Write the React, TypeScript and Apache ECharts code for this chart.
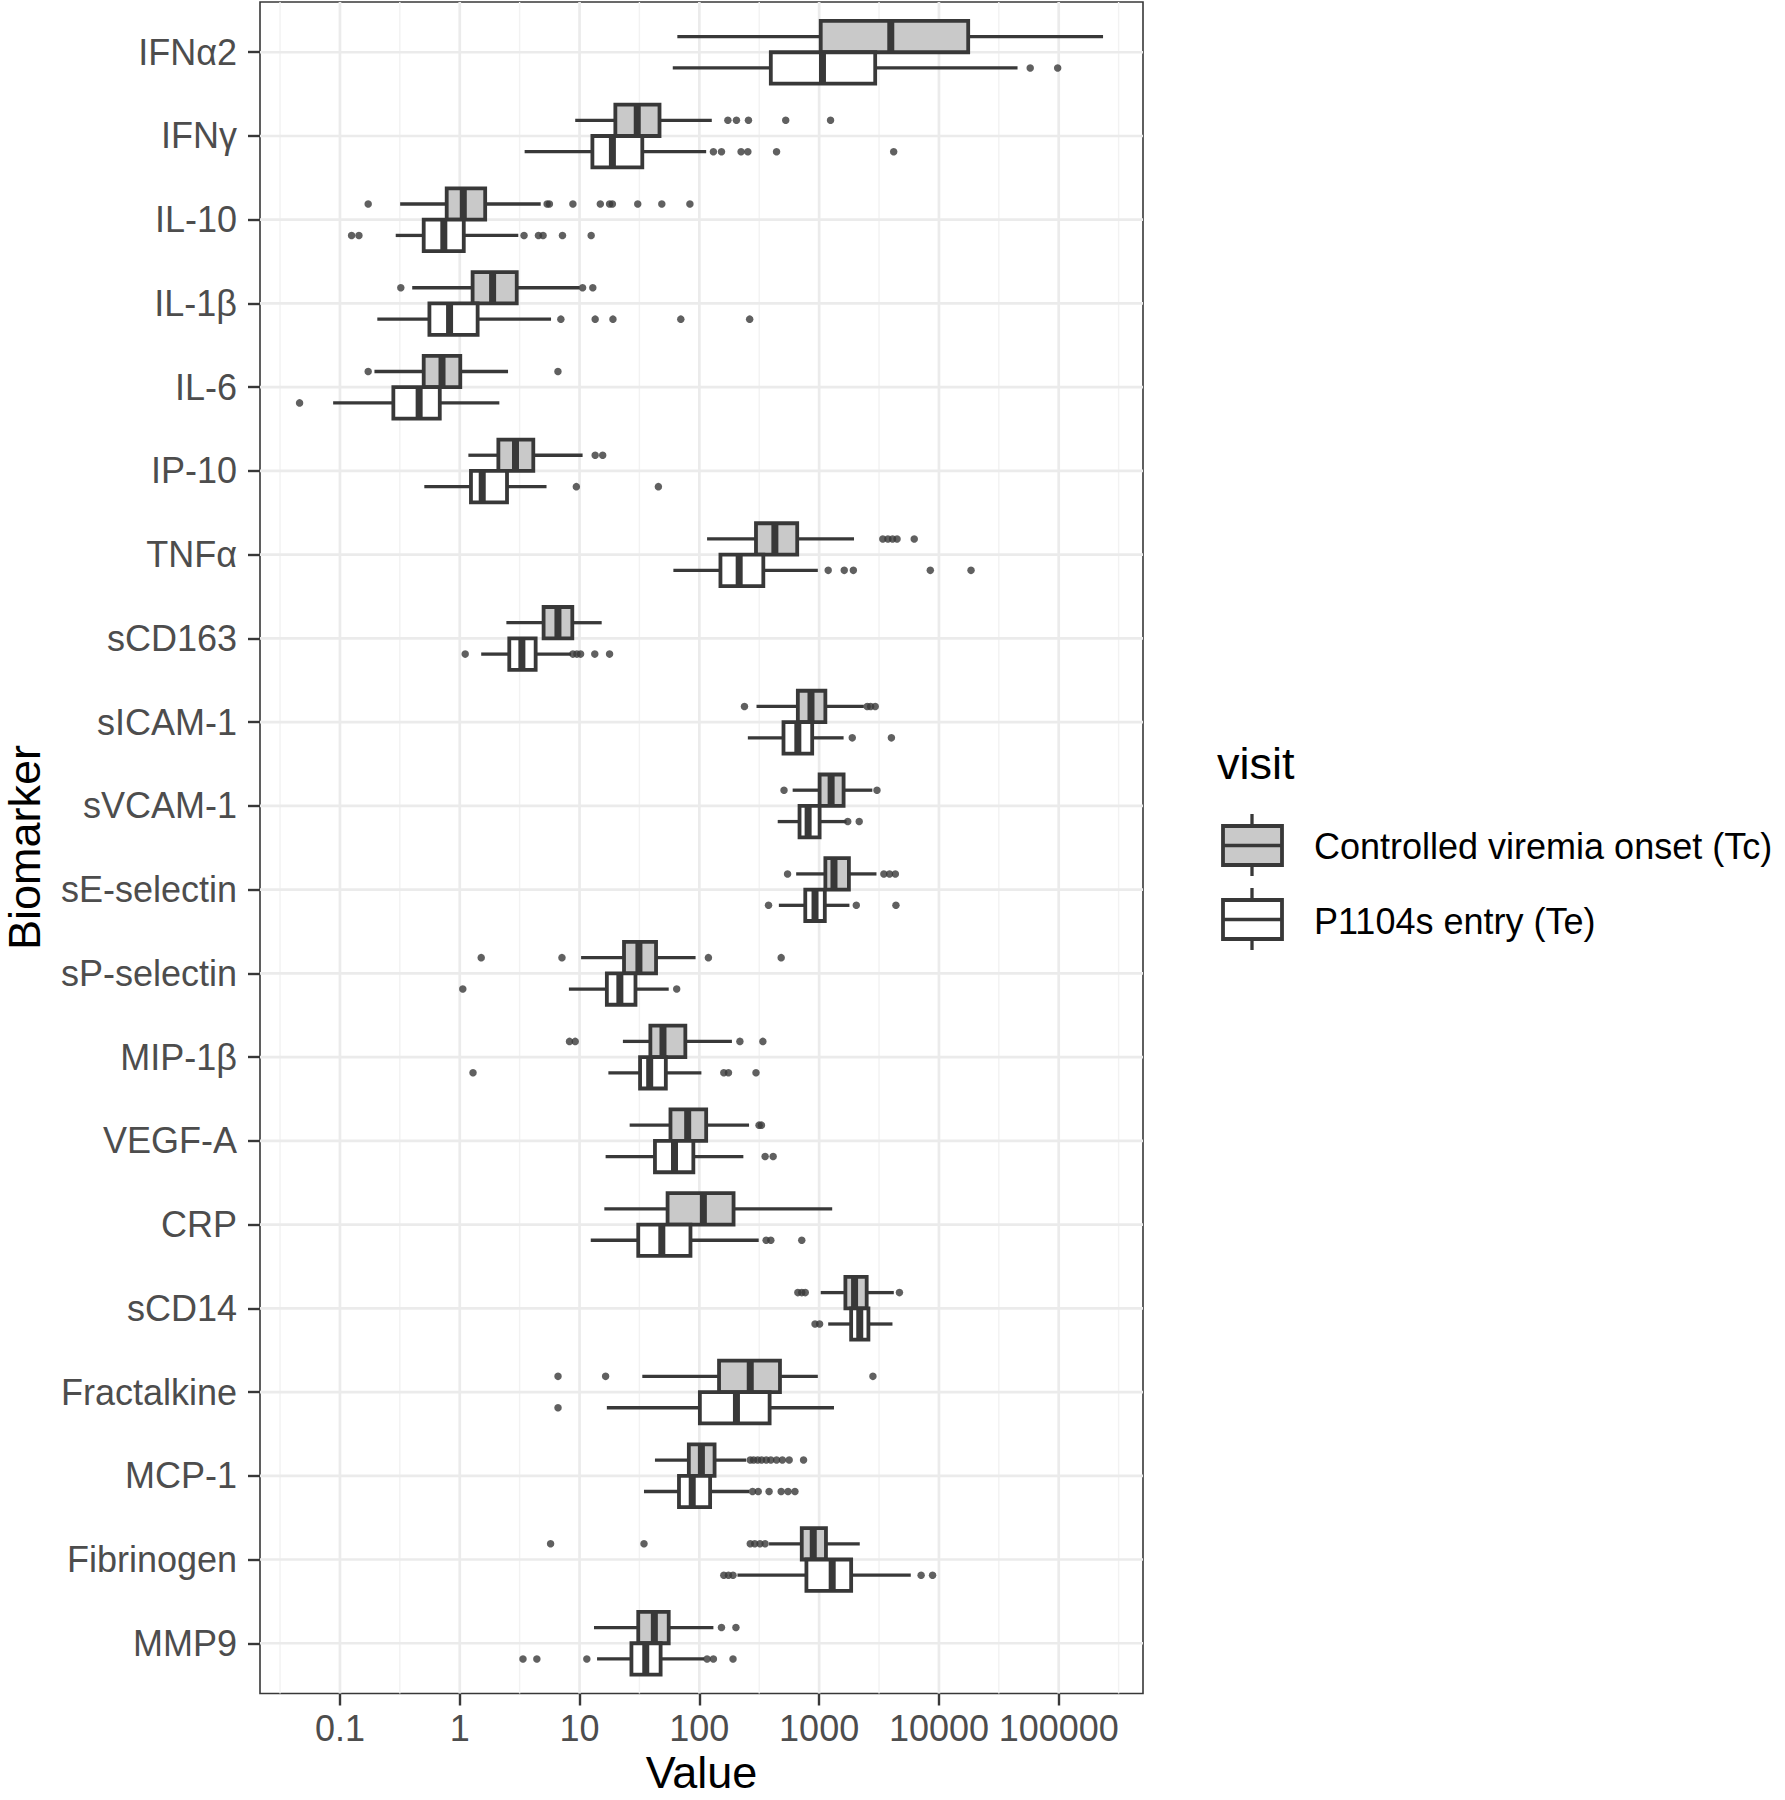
import React, { useEffect, useRef } from "react";
import * as echarts from "echarts";

// ---------- data ----------
const biomarkers = [
  "IFNα2", "IFNγ", "IL-10", "IL-1β", "IL-6", "IP-10", "TNFα", "sCD163", "sICAM-1", "sVCAM-1",
  "sE-selectin", "sP-selectin", "MIP-1β", "VEGF-A", "CRP", "sCD14", "Fractalkine", "MCP-1", "Fibrinogen", "MMP9",
];

const groupNames = ["Controlled viremia onset (Tc)", "P1104s entry (Te)"];

// Tc (controlled viremia onset)
const tcLow = [65.5, 9.2, 0.318, 0.401, 0.194, 1.18, 116, 2.45, 300, 601, 643, 10.3, 23, 26.2, 16.1, 1031, 33.4, 42.6, 382, 13.2];
const tcQ1 = [1031, 19.9, 0.778, 1.28, 0.5, 2.1, 297, 5.01, 664, 1009, 1127, 23.5, 39, 57.4, 54.3, 1656, 146, 81.7, 716, 30.9];
const tcMed = [3963, 30.3, 1.07, 1.88, 0.711, 2.92, 427, 6.6, 855, 1259, 1330, 31.3, 49.7, 79.9, 108, 1976, 266, 104, 893, 42.1];
const tcQ3 = [17550, 46.5, 1.63, 2.99, 1.01, 4.11, 656, 8.7, 1127, 1600, 1772, 43.5, 76.4, 114, 193, 2494, 471, 134, 1140, 55.5];
const tcHigh = [234400, 127, 4.74, 10.0, 2.53, 10.6, 1955, 15.3, 2360, 2780, 3010, 93, 187, 260, 1285, 4200, 975, 246, 2183, 131];
const tcOutliers = [
  [],
  [173, 204, 257, 526, 1245],
  [0.172, 5.36, 5.6, 8.8, 14.9, 17.8, 18.8, 30.6, 48.6, 83.4],
  [0.322, 10.6, 12.9],
  [0.172, 6.6],
  [13.5, 15.6],
  [3400, 3750, 4100, 4470, 6220],
  [],
  [238, 2520, 2690, 2940],
  [509, 3040],
  [545, 3470, 3870, 4325],
  [1.51, 7.13, 119, 482],
  [8.24, 9.2, 218, 339],
  [315, 330],
  [],
  [664, 716, 766, 4680],
  [6.61, 16.5, 2812],
  [266, 284, 307, 331, 362, 395, 441, 493, 562, 741],
  [5.73, 34.5, 266, 290, 321, 354],
  [153, 202],
];

// Te (P1104s entry)
const teLow = [60, 3.48, 0.292, 0.205, 0.0877, 0.506, 60.7, 1.51, 254, 451, 461, 8.15, 17.4, 16.5, 12.4, 1190, 16.9, 34.5, 208, 14];
const teQ1 = [395, 12.8, 0.5, 0.558, 0.279, 1.24, 150, 2.59, 504, 686, 766, 16.9, 32, 42.6, 30.9, 1850, 101, 67.6, 783, 27.1];
const teMed = [1066, 18.8, 0.736, 0.822, 0.458, 1.54, 215, 3.3, 664, 809, 924, 21.7, 38.5, 62, 48.6, 2183, 204, 87.2, 1285, 35.7];
const teQ3 = [2938, 33.4, 1.08, 1.41, 0.681, 2.48, 342, 4.3, 875, 1009, 1115, 29.3, 52.5, 89.1, 84.3, 2578, 386, 123, 1850, 47.5];
const teHigh = [45300, 114, 3.08, 5.78, 2.14, 5.3, 975, 8.5, 1600, 1694, 1790, 55.5, 104, 233, 313, 4093, 1330, 260, 5820, 110];
const teOutliers = [
  [57800, 98000],
  [131, 153, 223, 254, 441, 4190],
  [0.125, 0.144, 3.44, 4.54, 4.96, 7.2, 12.5],
  [6.98, 13.5, 19, 70, 263],
  [0.046],
  [9.4, 45.5],
  [1190, 1620, 1930, 8470, 18530],
  [1.11, 8.8, 9.5, 10.2, 13.4, 17.8],
  [1890, 4010],
  [1733, 2160],
  [378, 2042, 4375],
  [1.06, 64.7],
  [1.29, 160, 175, 297],
  [354, 413],
  [361, 395, 716],
  [924, 1009],
  [6.61],
  [278, 310, 382, 482, 550, 628],
  [160, 175, 191, 7100, 8850],
  [3.37, 4.4, 11.5, 116, 131, 191],
];

const xTickValues = [0.1, 1, 10, 100, 1000, 10000, 100000];
const xMinorValues = [0.0316, 0.316, 3.16, 31.6, 316, 3162, 31623, 316228];

// ---------- styling ----------
const FONT = '"Liberation Sans", Arial, Helvetica, sans-serif';
const OUTLINE = "#383838";
const FILL_TC = "#C9C9C9";
const FILL_TE = "#FFFFFF";
const DODGE = 0.1875;
const BOX_HALF = 0.1875;
const X_MIN = 0.0215;
const X_MAX = 505200;

function makeBoxRender(offset: number, fill: string) {
  return (params: any, api: any) => {
    const cat = api.value(0);
    const yc = cat + offset;
    const pLow = api.coord([api.value(1), yc]);
    const pQ1 = api.coord([api.value(2), yc]);
    const pMed = api.coord([api.value(3), yc]);
    const pQ3 = api.coord([api.value(4), yc]);
    const pHigh = api.coord([api.value(5), yc]);
    const yA = api.coord([api.value(3), yc - BOX_HALF])[1];
    const yB = api.coord([api.value(3), yc + BOX_HALF])[1];
    const top = Math.min(yA, yB);
    const h = Math.abs(yB - yA);
    return {
      type: "group",
      children: [
        { type: "line", shape: { x1: pLow[0], y1: pLow[1], x2: pQ1[0], y2: pQ1[1] }, style: { stroke: OUTLINE, lineWidth: 3.3 } },
        { type: "line", shape: { x1: pQ3[0], y1: pQ3[1], x2: pHigh[0], y2: pHigh[1] }, style: { stroke: OUTLINE, lineWidth: 3.3 } },
        { type: "rect", shape: { x: pQ1[0], y: top, width: pQ3[0] - pQ1[0], height: h }, style: { fill, stroke: OUTLINE, lineWidth: 3.8 } },
        { type: "line", shape: { x1: pMed[0], y1: top, x2: pMed[0], y2: top + h }, style: { stroke: OUTLINE, lineWidth: 7 } },
      ],
    };
  };
}

export default function App() {
  const ref = useRef<HTMLDivElement>(null);

  useEffect(() => {
    document.body.style.margin = "0";
    const chart = echarts.init(ref.current as HTMLDivElement, null, { renderer: "svg" });

    const tcData = biomarkers.map((_, i) => [i + 1, tcLow[i], tcQ1[i], tcMed[i], tcQ3[i], tcHigh[i]]);
    const teData = biomarkers.map((_, i) => [i + 1, teLow[i], teQ1[i], teMed[i], teQ3[i], teHigh[i]]);
    const tcPts: number[][] = [];
    tcOutliers.forEach((arr, i) => arr.forEach((v) => tcPts.push([v, i + 1 - DODGE])));
    const tePts: number[][] = [];
    teOutliers.forEach((arr, i) => arr.forEach((v) => tePts.push([v, i + 1 + DODGE])));

    const catPositions = biomarkers.map((_, i) => i + 1);

    const vGrid = [
      ...xMinorValues.map((v) => [v, 0]),
      ...xTickValues.map((v) => [v, 1]),
    ];
    const hGrid = catPositions.map((v) => [v]);

    const option: any = {
      animation: false,
      backgroundColor: "#FFFFFF",
      grid: {
        left: 260,
        top: 2,
        width: 883,
        height: 1691.5,
        show: true,
        borderColor: OUTLINE,
        borderWidth: 1.6,
        backgroundColor: "transparent",
        containLabel: false,
        outerBoundsMode: "none",
      },
      xAxis: {
        type: "log",
        logBase: 10,
        min: X_MIN,
        max: X_MAX,
        axisLine: { show: false },
        splitLine: { show: false },
        minorSplitLine: { show: false },
        axisTick: { show: true, length: 12, customValues: xTickValues, lineStyle: { color: OUTLINE, width: 2.4 } },
        axisLabel: {
          customValues: xTickValues,
          fontFamily: FONT,
          fontSize: 36,
          color: "#4D4D4D",
          margin: 17,
          formatter: (v: number) => String(Number(v.toPrecision(6))),
        },
      },
      yAxis: {
        type: "value",
        min: 0.4,
        max: 20.6,
        inverse: true,
        axisLine: { show: false },
        splitLine: { show: false },
        axisTick: { show: true, length: 12, customValues: catPositions, lineStyle: { color: OUTLINE, width: 2.4 } },
        axisLabel: {
          customValues: catPositions,
          fontFamily: FONT,
          fontSize: 36,
          color: "#4D4D4D",
          margin: 23,
          formatter: (v: number) => biomarkers[Math.round(v) - 1] ?? "",
        },
      },
      series: [
        {
          type: "custom",
          name: "vgrid",
          z: 1,
          silent: true,
          data: vGrid,
          encode: { x: 0 },
          renderItem: (params: any, api: any) => {
            const cs = params.coordSys;
            const x = api.coord([api.value(0), 1])[0];
            const major = api.value(1) === 1;
            return {
              type: "line",
              shape: { x1: x, y1: cs.y, x2: x, y2: cs.y + cs.height },
              style: { stroke: major ? "#EBEBEB" : "#F2F2F2", lineWidth: major ? 2.7 : 1.4 },
            };
          },
        },
        {
          type: "custom",
          name: "hgrid",
          z: 1,
          silent: true,
          data: hGrid,
          encode: { y: 0 },
          renderItem: (params: any, api: any) => {
            const cs = params.coordSys;
            const y = api.coord([1, api.value(0)])[1];
            return {
              type: "line",
              shape: { x1: cs.x, y1: y, x2: cs.x + cs.width, y2: y },
              style: { stroke: "#EBEBEB", lineWidth: 2.7 },
            };
          },
        },
        {
          type: "custom",
          name: groupNames[0],
          z: 3,
          data: tcData,
          encode: { x: [1, 2, 3, 4, 5], y: 0 },
          renderItem: makeBoxRender(-DODGE, FILL_TC),
        },
        {
          type: "custom",
          name: groupNames[1],
          z: 3,
          data: teData,
          encode: { x: [1, 2, 3, 4, 5], y: 0 },
          renderItem: makeBoxRender(DODGE, FILL_TE),
        },
        {
          type: "scatter",
          name: groupNames[0] + " outliers",
          z: 4,
          symbol: "circle",
          symbolSize: 7.5,
          itemStyle: { color: OUTLINE },
          data: tcPts,
        },
        {
          type: "scatter",
          name: groupNames[1] + " outliers",
          z: 4,
          symbol: "circle",
          symbolSize: 7.5,
          itemStyle: { color: OUTLINE },
          data: tePts,
        },
      ],
      graphic: [
        {
          type: "text",
          x: 701.5,
          y: 1772,
          style: { text: "Value", font: `45px ${FONT}`, fill: "#000000", textAlign: "center", textVerticalAlign: "middle", verticalAlign: "middle" },
        },
        {
          type: "text",
          x: 24,
          y: 847.5,
          rotation: Math.PI / 2,
          style: { text: "Biomarker", font: `45px ${FONT}`, fill: "#000000", textAlign: "center", textVerticalAlign: "middle", verticalAlign: "middle" },
        },
        {
          type: "text",
          x: 1217,
          y: 763,
          style: { text: "visit", font: `45px ${FONT}`, fill: "#000000", textAlign: "left", textVerticalAlign: "middle", verticalAlign: "middle" },
        },
        // key 1
        { type: "line", shape: { x1: 1252, y1: 814, x2: 1252, y2: 876 }, style: { stroke: OUTLINE, lineWidth: 3.3 } },
        { type: "rect", shape: { x: 1223, y: 826, width: 59, height: 39 }, style: { fill: FILL_TC, stroke: OUTLINE, lineWidth: 3.8 } },
        { type: "line", shape: { x1: 1223, y1: 845.5, x2: 1282, y2: 845.5 }, style: { stroke: OUTLINE, lineWidth: 3.3 } },
        {
          type: "text",
          x: 1314,
          y: 846,
          style: { text: groupNames[0], font: `36px ${FONT}`, fill: "#000000", textAlign: "left", textVerticalAlign: "middle", verticalAlign: "middle" },
        },
        // key 2
        { type: "line", shape: { x1: 1252, y1: 888, x2: 1252, y2: 950 }, style: { stroke: OUTLINE, lineWidth: 3.3 } },
        { type: "rect", shape: { x: 1223, y: 900, width: 59, height: 39 }, style: { fill: FILL_TE, stroke: OUTLINE, lineWidth: 3.8 } },
        { type: "line", shape: { x1: 1223, y1: 919.5, x2: 1282, y2: 919.5 }, style: { stroke: OUTLINE, lineWidth: 3.3 } },
        {
          type: "text",
          x: 1314,
          y: 921,
          style: { text: groupNames[1], font: `36px ${FONT}`, fill: "#000000", textAlign: "left", textVerticalAlign: "middle", verticalAlign: "middle" },
        },
      ],
    };

    chart.setOption(option);
    return () => chart.dispose();
  }, []);

  return <div ref={ref} style={{ width: 1785, height: 1800 }} />;
}
